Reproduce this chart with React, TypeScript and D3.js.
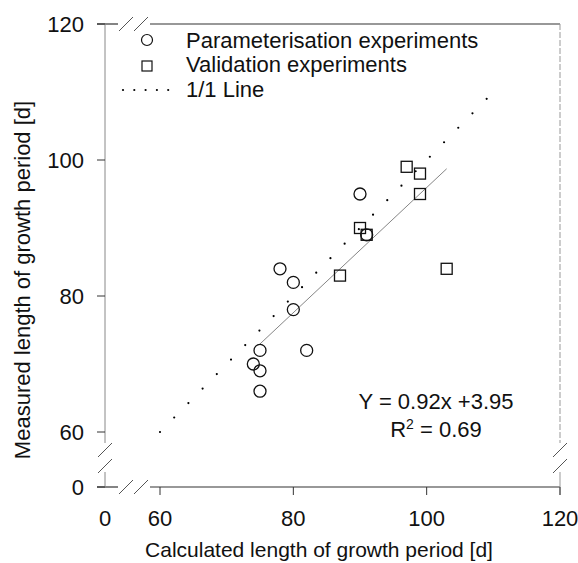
import React from "react";
import * as d3 from "d3";

const paramX = [90, 91, 78, 80, 80, 82, 75, 74, 75, 75];
const paramY = [95, 89, 84, 82, 78, 72, 72, 70, 69, 66];
const validX = [97, 99, 99, 90, 91, 87, 103];
const validY = [99, 98, 95, 90, 89, 83, 84];
const xTicks = [0, 60, 80, 100, 120];
const yTicks = [0, 60, 80, 100, 120];
const slope = 0.92;
const intercept = 3.95;
const regRange = [75, 103];
const oneToOne = [60, 109];
const legendLabels = ["Parameterisation experiments", "Validation experiments", "1/1 Line"];
const eqText = "Y = 0.92x +3.95";
const r2Value = "0.69";
const xTitle = "Calculated length of growth period [d]";
const yTitle = "Measured length of growth period [d]";

const W = 578;
const H = 563;
const FONT = "'Liberation Sans', Arial, sans-serif";

export default function App() {
  const x = d3.scaleLinear().domain([0, 60, 120]).range([105, 160, 560]);
  const y = d3.scaleLinear().domain([0, 60, 120]).range([487, 432, 24]);
  const x0 = x(0), x1 = x(120), y0 = y(0), y1 = y(120);
  const line = d3.line<[number, number]>().x((d) => x(d[0])).y((d) => y(d[1]));
  const regPts: [number, number][] = regRange.map((v) => [v, slope * v + intercept]);
  const idPts: [number, number][] = oneToOne.map((v) => [v, v]);
  const idLen = Math.hypot(x(oneToOne[1]) - x(oneToOne[0]), y(oneToOne[0]) - y(oneToOne[1]));
  const gap = idLen / 23;
  const axisCol = "#333";
  const slash = (cx: number, cy: number, key: string) => (
    <line key={key} x1={cx - 7} y1={cy + 7} x2={cx + 7} y2={cy - 7} stroke="#555" strokeWidth={1} />
  );
  const tfs = 22;
  return (
    <svg width={W} height={H} style={{ position: "absolute", left: 0, top: 0, background: "#fff" }} fontFamily={FONT}>
      <rect width={W} height={H} fill="#fff" />
      {/* bottom axis with break */}
      <line x1={97} y1={y0} x2={118} y2={y0} stroke={axisCol} strokeWidth={1.2} />
      <line x1={150} y1={y0} x2={x1} y2={y0} stroke={axisCol} strokeWidth={1.2} />
      {slash(126, y0, "bs1")}
      {slash(141, y0, "bs2")}
      {/* top frame */}
      <line x1={97} y1={y1} x2={118} y2={y1} stroke={axisCol} strokeWidth={1.2} />
      <line x1={150} y1={y1} x2={x1} y2={y1} stroke={axisCol} strokeWidth={1.2} />
      {slash(126, y1, "ts1")}
      {slash(141, y1, "ts2")}
      {/* left axis with break */}
      <line x1={x0} y1={y1} x2={x0} y2={443} stroke="#888" strokeWidth={1} />
      <line x1={x0} y1={472} x2={x0} y2={y0} stroke="#888" strokeWidth={1} />
      {slash(x0, 450, "ls1")}
      {slash(x0, 466, "ls2")}
      {/* right frame with break */}
      <line x1={x1} y1={y1} x2={x1} y2={443} stroke="#999" strokeWidth={1} strokeDasharray="6 2" />
      <line x1={x1} y1={472} x2={x1} y2={y0 + 8} stroke="#999" strokeWidth={1} />
      {slash(x1, 450, "rs1")}
      {slash(x1, 466, "rs2")}
      {/* y ticks */}
      {yTicks.map((t) => (
        <g key={"yt" + t}>
          <line x1={97} x2={x0} y1={y(t)} y2={y(t)} stroke={axisCol} strokeWidth={1} />
          <text x={84} y={y(t)} dy="0.35em" textAnchor="end" fontSize={tfs} fill="#111">{t}</text>
        </g>
      ))}
      {/* x ticks */}
      {xTicks.map((t) => (
        <g key={"xt" + t}>
          {t !== 0 && <line x1={x(t)} x2={x(t)} y1={y0} y2={y0 + 8} stroke={axisCol} strokeWidth={1} />}
          <text x={x(t)} y={518} dy="0.35em" textAnchor="middle" fontSize={tfs} fill="#111">{t}</text>
        </g>
      ))}
      {/* axis titles */}
      <text x={319} y={550} dy="0.35em" textAnchor="middle" fontSize={21} fill="#111">{xTitle}</text>
      <text transform={`translate(22,280) rotate(-90)`} dy="0.35em" textAnchor="middle" fontSize={tfs} fill="#111">{yTitle}</text>
      {/* 1/1 line */}
      <path d={line(idPts) || ""} fill="none" stroke="#000" strokeWidth={2.2} strokeDasharray={`0 ${gap}`} strokeLinecap="round" />
      {/* regression */}
      <path d={line(regPts) || ""} fill="none" stroke="#777" strokeWidth={0.9} />
      {/* markers */}
      {validX.map((v, i) => (
        <rect key={"v" + i} x={x(v) - 5.5} y={y(validY[i]) - 5.5} width={11} height={11} fill="none" stroke="#111" strokeWidth={1.3} />
      ))}
      {paramX.map((v, i) => (
        <circle key={"p" + i} cx={x(v)} cy={y(paramY[i])} r={6} fill="none" stroke="#111" strokeWidth={1.3} />
      ))}
      {/* legend */}
      <circle cx={147} cy={40} r={5.5} fill="none" stroke="#111" strokeWidth={1.2} />
      <rect x={142} y={61} width={10} height={10} fill="none" stroke="#111" strokeWidth={1.2} />
      {[0, 1, 2, 3, 4].map((k) => (
        <circle key={"ld" + k} cx={123 + k * 11.3} cy={90} r={1.1} fill="#000" />
      ))}
      {legendLabels.map((l, i) => (
        <text key={"ll" + i} x={186} y={40 + i * 24.5} dy="0.35em" fontSize={tfs} fill="#111">{l}</text>
      ))}
      {/* equation */}
      <text x={436} y={401} dy="0.35em" textAnchor="middle" fontSize={tfs} fill="#111">{eqText}</text>
      <text x={436} y={429} dy="0.35em" textAnchor="middle" fontSize={tfs} fill="#111">
        R<tspan fontSize={14} dy="-8">2</tspan><tspan dy="8"> = {r2Value}</tspan>
      </text>
    </svg>
  );
}
